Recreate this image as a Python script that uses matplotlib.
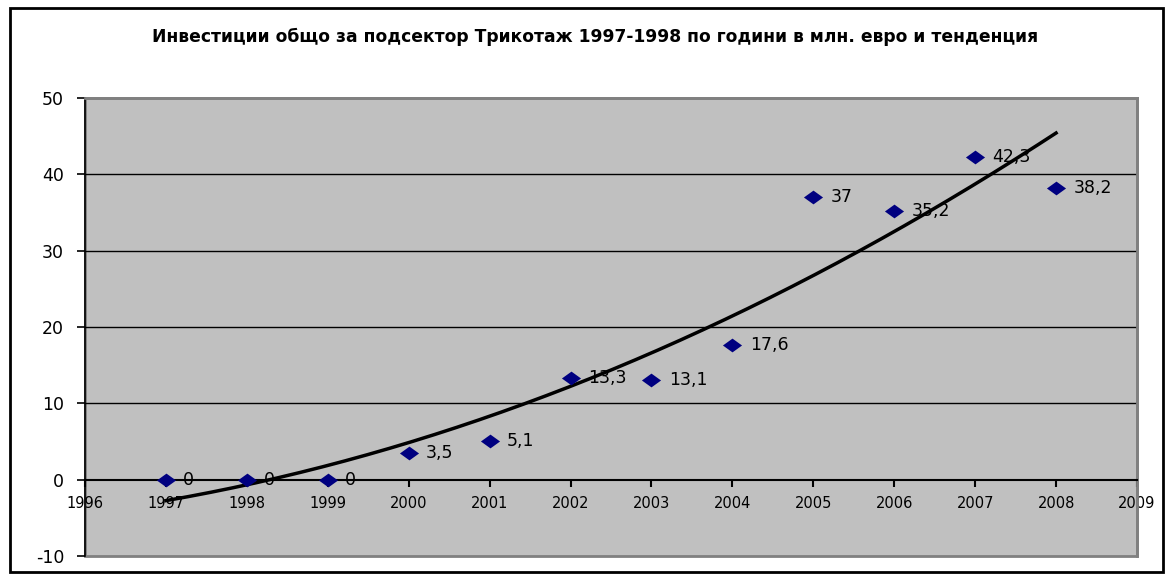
import numpy as np
import matplotlib
matplotlib.use("Agg")
import matplotlib.pyplot as plt
from matplotlib.patches import Rectangle

plt.rcParams["axes.unicode_minus"] = False

title = "Инвестиции общо за подсектор Трикотаж 1997-1998 по години в млн. евро и тенденция"
years = [1997, 1998, 1999, 2000, 2001, 2002, 2003, 2004, 2005, 2006, 2007, 2008]
values = [0, 0, 0, 3.5, 5.1, 13.3, 13.1, 17.6, 37, 35.2, 42.3, 38.2]
labels = ["0", "0", "0", "3,5", "5,1", "13,3", "13,1", "17,6", "37", "35,2", "42,3", "38,2"]
x_ticks = list(range(1996, 2010))
y_ticks = [-10, 0, 10, 20, 30, 40, 50]

fig = plt.figure(figsize=(11.73, 5.8), dpi=100)
fig.patch.set_facecolor("white")
# outer chart border
fig.patches.append(Rectangle((10 / 1173, 8 / 580), 1153 / 1173, 564 / 580,
                             transform=fig.transFigure, fill=False,
                             edgecolor="black", linewidth=2))

ax = fig.add_axes([85 / 1173, 1 - 556 / 580, (1137 - 85) / 1173, (556 - 98) / 580])
ax.set_facecolor("#C0C0C0")
ax.set_xlim(1996, 2009)
ax.set_ylim(-10, 50)

for v in [10, 20, 30, 40]:
    ax.axhline(v, color="black", linewidth=1.0, zorder=1)

# trend line (2nd order polynomial)
coef = np.polyfit(years, values, 2)
xs = np.linspace(years[0], years[-1], 200)
ax.plot(xs, np.polyval(coef, xs), color="black", linewidth=2.5, zorder=3)

diamond = [(-1, 0), (0, 0.72), (1, 0), (0, -0.72), (-1, 0)]
ax.scatter(years, values, marker=diamond, s=190, color="#000080", zorder=4, linewidths=0)
for x, y, t in zip(years, values, labels):
    ax.annotate(t, (x, y), xytext=(12.5, 0), textcoords="offset points",
                va="center", ha="left", fontsize=12.5, color="black", zorder=5)

ax.spines["bottom"].set_position(("data", 0))
ax.spines["bottom"].set_color("black")
ax.spines["bottom"].set_linewidth(1.5)
ax.spines["left"].set_color("black")
ax.spines["left"].set_linewidth(1.2)
for s in ["top", "right"]:
    ax.spines[s].set_color("#808080")
    ax.spines[s].set_linewidth(2)
ax.add_patch(Rectangle((0, 0), 1, 1, transform=ax.transAxes, fill=False,
                       edgecolor="#808080", linewidth=2, zorder=0.5, clip_on=False))

ax.set_xticks(x_ticks)
ax.set_xticklabels([str(t) for t in x_ticks])
ax.set_yticks(y_ticks)
ax.tick_params(axis="x", direction="out", length=5, width=1.5, labelsize=10.5, pad=7)
ax.tick_params(axis="y", direction="out", length=6, width=1.2, labelsize=12.5, pad=9)

fig.text(595 / 1173, 1 - 37 / 580, title, ha="center", va="center", fontsize=12.3,
         fontweight="bold", family=["DejaVu Sans"])

fig.savefig("out.png", dpi=100)
